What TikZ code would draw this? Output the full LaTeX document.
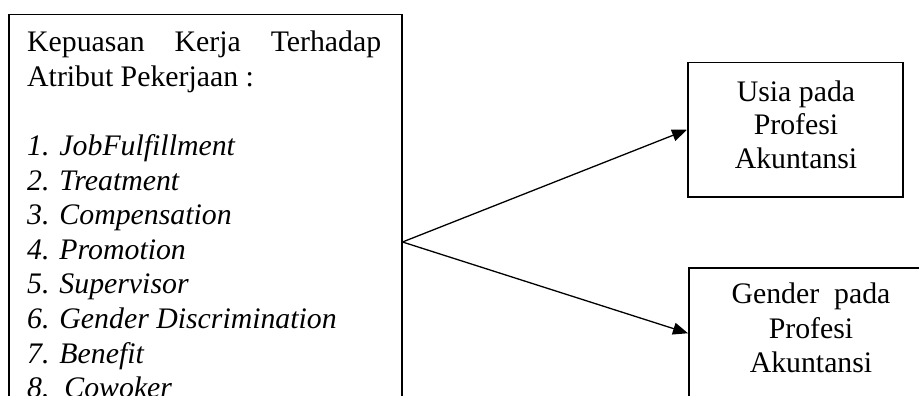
\documentclass[tikz,border=0pt]{standalone}
\usepackage{fontspec}
\setmainfont{Liberation Serif}
\usetikzlibrary{arrows.meta}
\begin{document}
\begin{tikzpicture}[x=1pt,y=1pt,
  frame/.style={draw, line width=1.5pt, rectangle, inner sep=0pt, anchor=north west},
  txt/.style={inner sep=0pt, font=\fontsize{29.8}{34.6}\selectfont},
  lefttxt/.style={txt, anchor=base west},
  ctrtxt/.style={txt, anchor=base},
  link/.style={line width=1.3pt, -{Triangle[length=15pt,width=12pt]}}]
\useasboundingbox (0,0) rectangle (919,-396);
\clip (0,0) rectangle (919,-396);

% source box with its list of job attributes
\node[frame, minimum width=393pt, minimum height=420pt] (src) at (8,-14) {};
\node[lefttxt] (h1) at (27,-52) {\makebox[354pt][s]{Kepuasan Kerja Terhadap}};
\node[lefttxt] (h2) at (27,-86.6) {Atribut Pekerjaan :};
\foreach \n/\t [count=\i] in {1/JobFulfillment, 2/Treatment, 3/Compensation,
    4/Promotion, 5/Supervisor, 6/Gender Discrimination, 7/Benefit}
  \node[lefttxt] (item\i) at (27,{-155.5-34.6*(\i-1)}) {\itshape \n. \t};
\node[lefttxt] (item8) at (27,-397.7) {\itshape 8.\ \ Cowoker};

% target boxes
\node[frame, minimum width=215pt, minimum height=134pt] (usia) at (687,-62) {};
\node[ctrtxt] (u1) at (796,-102) {Usia pada};
\node[ctrtxt] (u2) at (796,-135) {Profesi};
\node[ctrtxt] (u3) at (796,-168) {Akuntansi};

\node[frame, minimum width=260pt, minimum height=131pt] (gender) at (688,-267) {};
\node[ctrtxt] (g1) at (811,-303) {Gender\ \ pada};
\node[ctrtxt] (g2) at (811,-338) {Profesi};
\node[ctrtxt] (g3) at (811,-372) {Akuntansi};

% connectors fanning out from the source box
\coordinate (fork) at (src.north east |- 0,-242);
\draw[link] (fork) -- (usia.west);
\draw[link] (fork) -- (gender.west);
\end{tikzpicture}
\end{document}
